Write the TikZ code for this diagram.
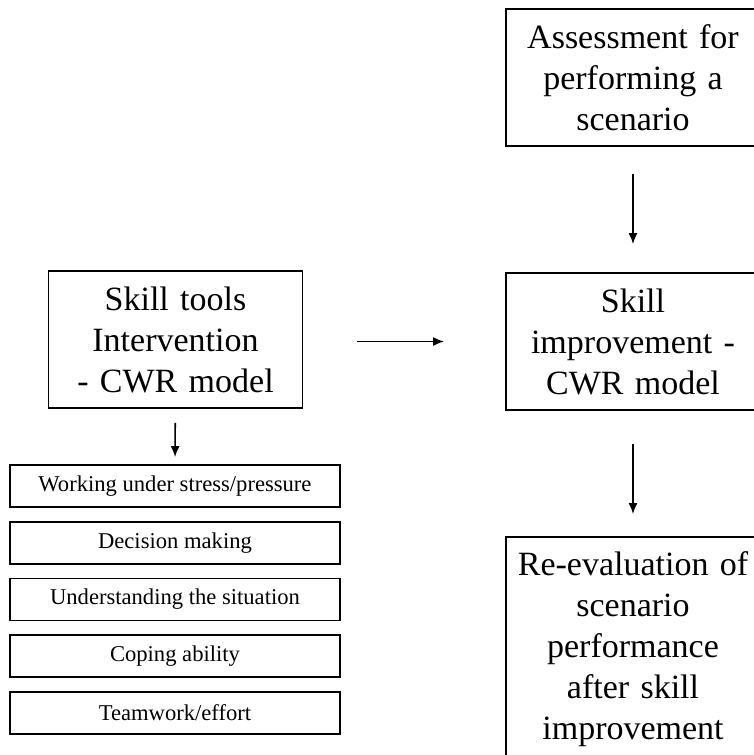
\documentclass[tikz,border=0pt]{standalone}
\usepackage{fontspec}
\setmainfont{Liberation Serif}
\usetikzlibrary{arrows.meta}
\usetikzlibrary{positioning}
\tikzset{
    bigbox/.style={
           rectangle,
           draw=black, line width=1.8pt,
           minimum width=254pt, minimum height=137pt,
           text width=240pt, align=center,
           font=\fontsize{34}{41}\selectfont,
           },
}
\tikzset{
    skillbox/.style={
           rectangle,
           draw=black, line width=1.8pt,
           minimum width=330pt, minimum height=42pt,
           text centered,
           font=\fontsize{22.6}{26}\selectfont,
           },
}
\tikzset{
    flow/.style={
           -{Latex[length=11pt,width=9pt]},
           line width=1.6pt,
           },
}

\begin{document}
\begin{tikzpicture}[x=1pt,y=-1pt]
\clip (0,0) rectangle (754,755);
\node[bigbox] (tools) at (175.5,339.5) {Skill tools\\Intervention\\- CWR model};
\node[bigbox] (assess) at (633,77.5) {Assessment for\\performing a\\scenario};
\node[bigbox] (improve) at (633,341.5) {Skill\\improvement -\\CWR model};
\node[bigbox, minimum height=225pt] (reeval) at (633,649.5) {Re-evaluation of\\scenario\\performance\\after skill\\improvement};
\node[skillbox] (stress) at (175,486) {Working under stress/pressure};
\node[skillbox] (decision) at (175,543) {Decision making};
\node[skillbox] (situation) at (175,599.5) {Understanding the situation};
\node[skillbox] (coping) at (175,656) {Coping ability};
\node[skillbox] (team) at (175,713) {Teamwork/effort};
\draw[flow, shorten <=54pt, shorten >=61pt] (tools.east |- improve.west) -- (improve.west);
\draw[flow, shorten <=27pt, shorten >=28pt] (assess) -- (improve);
\draw[flow, shorten <=33pt, shorten >=22pt] (improve) -- (reeval);
\draw[flow, shorten <=14pt, shorten >=7pt] (tools) -- (stress);
\end{tikzpicture}
\end{document}
